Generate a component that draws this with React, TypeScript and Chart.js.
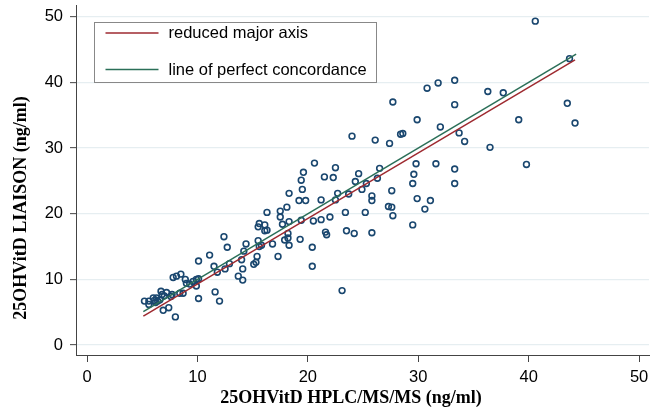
import React, { useEffect, useRef } from "react";
import { Chart, registerables } from "chart.js";

Chart.register(...registerables);

// HPLC/MS/MS (x) and LIAISON (y) measurements, ng/ml
const hplcValues = [
  5.2, 5.6, 5.6, 6.0, 6.1, 6.3, 6.4, 6.6, 6.7, 6.8, 6.9, 7.4, 7.6, 8.0, 7.8, 8.1, 8.5, 8.4, 8.7, 8.9,
  9.0, 9.3, 9.6, 9.9, 10.1, 9.9, 10.1, 10.1, 11.1, 11.5, 11.6, 11.8, 12.0, 12.4, 12.7, 12.5, 12.9, 13.7,
  14.0, 14.1, 14.1, 14.2, 14.4, 15.1, 7.0, 7.2, 6.2, 7.7,
  24.0, 26.1, 27.4, 20.6, 22.5, 19.6, 21.5, 22.3, 24.6, 26.5, 19.4, 24.3, 19.5, 25.3, 26.3, 24.9, 18.3,
  22.7, 23.7, 25.8, 19.2, 19.8, 21.2, 22.5, 25.8, 27.3, 16.3, 17.5, 18.1, 17.5, 15.6, 16.1, 15.5, 16.3,
  16.1, 17.7, 18.3, 19.4, 20.5, 21.2, 22.0, 23.4, 25.2, 18.2, 18.2, 17.9, 18.3, 19.3, 16.8, 15.5, 15.6,
  15.8, 20.4, 21.6, 21.7, 23.5, 24.2, 25.8, 17.3, 15.4, 15.3, 20.4, 23.1,
  33.3, 31.8, 30.8, 36.3, 37.7, 27.7, 33.3, 29.9, 32.0, 28.4, 28.6, 33.7, 34.2, 36.5, 29.8, 31.6, 33.3,
  29.6, 29.5, 33.3, 27.6, 29.9, 31.1, 30.6, 27.6, 27.7, 29.5,
  40.6, 43.7, 43.5, 39.1, 44.2, 39.8,
];
const liaisonValues = [
  6.7, 6.7, 6.2, 7.2, 6.8, 7.2, 6.7, 6.9, 8.2, 7.7, 5.3, 5.7, 7.4, 4.3, 10.3, 10.5, 10.8, 7.9, 7.9, 10.0,
  9.4, 9.3, 9.7, 10.0, 10.1, 9.0, 12.8, 7.1, 13.7, 12.0, 8.1, 11.1, 6.7, 16.5, 14.9, 11.6, 12.4, 10.5,
  13.0, 9.9, 11.6, 14.3, 15.4, 12.3, 7.5, 8.0, 6.5, 7.7,
  31.8, 31.2, 30.7, 27.7, 27.0, 26.3, 25.6, 25.5, 26.1, 26.9, 25.1, 24.9, 23.7, 24.6, 25.4, 23.7, 23.1,
  23.1, 23.0, 22.7, 22.0, 22.0, 22.1, 22.1, 22.0, 21.1, 20.2, 20.4, 21.0, 19.5, 18.5, 18.3, 18.0, 17.5,
  17.4, 18.4, 18.8, 19.0, 18.9, 19.1, 19.5, 20.2, 20.2, 17.0, 16.3, 16.0, 15.2, 16.1, 15.4, 15.9, 15.0,
  15.2, 14.9, 17.2, 16.8, 17.4, 17.0, 17.1, 13.5, 13.5, 12.6, 12.0, 8.3,
  40.3, 39.9, 39.1, 38.6, 38.4, 37.0, 36.6, 34.3, 33.2, 32.1, 32.2, 32.3, 31.0, 30.1, 27.6, 27.6, 26.8,
  26.0, 24.6, 24.6, 23.5, 22.3, 22.0, 20.7, 21.0, 19.7, 18.3,
  49.3, 43.6, 36.8, 34.3, 33.8, 27.5,
];

// Fitted lines
const rmaLineX = [5.1, 44.2];
const rmaLineY = [4.4, 43.4];
const concordanceLineX = [5.1, 44.3];
const concordanceLineY = [5.1, 44.3];

// Series labels and ticks
const rmaLabel = "reduced major axis";
const concordanceLabel = "line of perfect concordance";
const xTicks = [0, 10, 20, 30, 40, 50];
const yTicks = [0, 10, 20, 30, 40, 50];
const xTitle = "25OHVitD HPLC/MS/MS (ng/ml)";
const yTitle = "25OHVitD LIAISON (ng/ml)";

const NAVY = "#1a476f";
const RED = "#9e2a30";
const GREEN = "#2b6f58";
const TICK_FONT = "'Liberation Sans', Arial, sans-serif";
const TITLE_FONT = "'Liberation Serif', 'Times New Roman', serif";

const overlayPlugin = {
  id: "overlay",
  afterDraw(chart: any) {
    const ctx = chart.ctx;
    ctx.save();
    // Legend box
    const bx = 94.5;
    const by = 22.5;
    const bw = 282;
    const bh = 60;
    ctx.fillStyle = "#ffffff";
    ctx.fillRect(bx, by, bw, bh);
    ctx.strokeStyle = "#888888";
    ctx.lineWidth = 1;
    ctx.strokeRect(bx, by, bw, bh);
    const items = chart.data.datasets.filter((d: any) => d.inLegend);
    const rowsY = [by + 10.5, by + 47];
    items.forEach((d: any, i: number) => {
      const y = rowsY[i];
      ctx.strokeStyle = d.borderColor;
      ctx.lineWidth = 1.5;
      ctx.beginPath();
      ctx.moveTo(bx + 11, y);
      ctx.lineTo(bx + 64, y);
      ctx.stroke();
      ctx.fillStyle = "#000000";
      ctx.font = `16.5px ${TICK_FONT}`;
      ctx.textBaseline = "middle";
      ctx.textAlign = "left";
      ctx.fillText(d.label, bx + 74, y + 0.5);
    });
    // Axis titles
    ctx.fillStyle = "#000000";
    ctx.font = `bold 18px ${TITLE_FONT}`;
    ctx.textAlign = "center";
    ctx.textBaseline = "middle";
    ctx.fillText(xTitle, 351, 398);
    ctx.translate(21, 208);
    ctx.rotate(-Math.PI / 2);
    ctx.fillText(yTitle, 0, 0);
    ctx.restore();
  },
};

export default function App() {
  const canvasRef = useRef<HTMLCanvasElement | null>(null);

  useEffect(() => {
    if (!canvasRef.current) return;
    const points = hplcValues.map((x, i) => ({ x, y: liaisonValues[i] }));
    const rma = rmaLineX.map((x, i) => ({ x, y: rmaLineY[i] }));
    const conc = concordanceLineX.map((x, i) => ({ x, y: concordanceLineY[i] }));

    const chart = new Chart(canvasRef.current, {
      type: "scatter",
      data: {
        datasets: [
          {
            label: rmaLabel,
            data: rma,
            showLine: true,
            borderColor: RED,
            borderWidth: 1.5,
            pointRadius: 0,
            order: 1,
            inLegend: true,
          } as any,
          {
            label: concordanceLabel,
            data: conc,
            showLine: true,
            borderColor: GREEN,
            borderWidth: 1.5,
            pointRadius: 0,
            order: 0,
            inLegend: true,
          } as any,
          {
            label: "observations",
            data: points,
            showLine: false,
            pointRadius: 2.9,
            pointBorderWidth: 1.6,
            pointBorderColor: NAVY,
            pointBackgroundColor: "rgba(0,0,0,0)",
            borderColor: NAVY,
            backgroundColor: "rgba(0,0,0,0)",
            order: 2,
          } as any,
        ],
      },
      options: {
        animation: false,
        responsive: true,
        maintainAspectRatio: false,
        layout: { padding: { top: 4, right: 12, left: 0, bottom: 0 } },
        plugins: {
          legend: { display: false },
          tooltip: { enabled: false },
          title: { display: false },
        },
        scales: {
          x: {
            type: "linear",
            min: -1,
            max: 50.9,
            afterBuildTicks: (scale: any) => {
              scale.ticks = xTicks.map((v) => ({ value: v }));
            },
            afterFit: (scale: any) => {
              scale.height = 54;
              scale.paddingLeft = 0;
              scale.paddingRight = 0;
            },
            grid: {
              drawOnChartArea: false,
              drawTicks: true,
              tickLength: 7,
              tickColor: "#444444",
              tickWidth: 1,
            },
            border: { display: true, color: "#444444", width: 1 },
            ticks: {
              padding: 6,
              color: "#000000",
              font: { family: TICK_FONT, size: 16.5 },
              maxRotation: 0,
              autoSkip: false,
            },
          },
          y: {
            type: "linear",
            min: -1.5,
            max: 51.67,
            afterBuildTicks: (scale: any) => {
              scale.ticks = yTicks.map((v) => ({ value: v }));
            },
            afterFit: (scale: any) => {
              scale.width = 76;
              scale.paddingTop = 0;
              scale.paddingBottom = 0;
            },
            grid: {
              drawOnChartArea: true,
              color: "#e6eef1",
              lineWidth: 1.3,
              drawTicks: true,
              tickLength: 6,
              tickColor: "#444444",
              tickWidth: 1,
            },
            border: { display: true, color: "#444444", width: 1 },
            ticks: {
              padding: 7,
              color: "#000000",
              font: { family: TICK_FONT, size: 16.5 },
              autoSkip: false,
            },
          },
        },
      },
      plugins: [overlayPlugin],
    });
    return () => chart.destroy();
  }, []);

  return (
    <div
      style={{
        position: "fixed",
        left: 0,
        top: 0,
        width: 661,
        height: 409,
        background: "#ffffff",
      }}
    >
      <canvas ref={canvasRef} />
    </div>
  );
}
